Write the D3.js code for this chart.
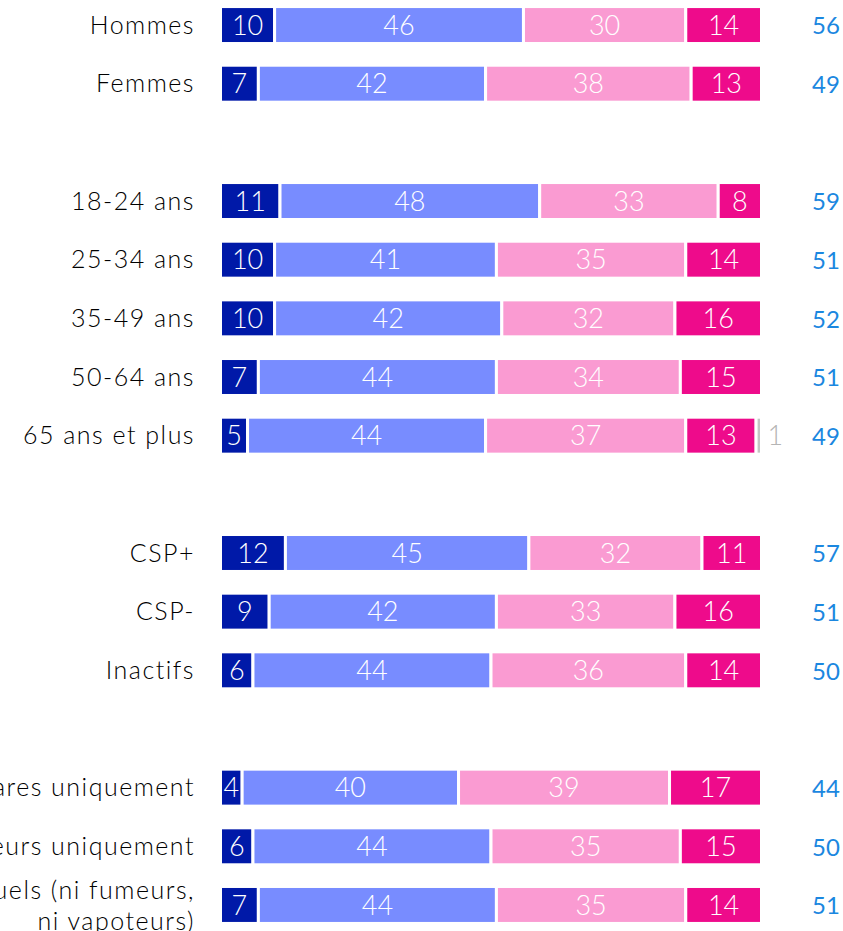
<!DOCTYPE html>
<meta charset="utf-8">
<head>
	<title>Barres empilées</title>
</head>
<style>
body{
	margin: 0;
	background: #fff;
}
svg{
	display: block;
	font-family: "Century Gothic", "Lato", sans-serif;
}
.cat{
	fill: #000;
	font-size: 25px;
	font-weight: 300;
	letter-spacing: 1.5px;
}
.val{
	fill: #fff;
	font-size: 27px;
	font-weight: 300;
}
.tot{
	fill: #1b87e0;
	font-size: 24px;
	font-weight: 400;
}
</style>
<body>
<svg width="843" height="931"></svg>

<script src="https://cdnjs.cloudflare.com/ajax/libs/d3/7.8.5/d3.min.js"></script>
<script>

// catégories (null = ligne vide entre les groupes)
var categories = [
	"Hommes", "Femmes", null,
	"18-24 ans", "25-34 ans", "35-49 ans", "50-64 ans", "65 ans et plus", null,
	"CSP+", "CSP-", "Inactifs", null,
	"Fumeurs de cigares uniquement", "Vapoteurs uniquement",
	["Non-consommateurs actuels (ni fumeurs,", "ni vapoteurs)"]
];

var serie1 = [10, 7, null, 11, 10, 10, 7, 5, null, 12, 9, 6, null, 4, 6, 7];
var serie2 = [46, 42, null, 48, 41, 42, 44, 44, null, 45, 42, 44, null, 40, 44, 44];
var serie3 = [30, 38, null, 33, 35, 32, 34, 37, null, 32, 33, 36, null, 39, 35, 35];
var serie4 = [14, 13, null, 8, 14, 16, 15, 13, null, 11, 16, 14, null, 17, 15, 14];
var nsp    = [0, 0, null, 0, 0, 0, 0, 1, null, 0, 0, 0, null, 0, 0, 0];
var totaux = [56, 49, null, 59, 51, 52, 51, 49, null, 57, 51, 50, null, 44, 50, 51];

var couleurs = ["#0019a8", "#788cff", "#fa9bd2", "#ee0b8b", "#c4c4c4"];

var svg = d3.select("svg");

var x = d3.scaleLinear()
	.domain([0, 100])
	.range([220.5, 761.5]);

var y = d3.scaleBand()
	.domain(d3.range(categories.length))
	.range([-4, 934])
	.paddingInner(0.37)
	.paddingOuter(0.18);

var lignes = categories.map(function(c, i){
	return {cat: c, vals: [serie1[i], serie2[i], serie3[i], serie4[i], nsp[i]], tot: totaux[i], i: i};
}).filter(function(d){ return d.cat !== null; });

var g = svg.selectAll("g.row")
	.data(lignes)
	.enter()
	.append("g")
	.attr("class", "row")
	.attr("transform", function(d){ return "translate(0," + y(d.i) + ")"; });

var h = y.bandwidth();

// libellés
g.append("text")
	.attr("class", "cat")
	.attr("text-anchor", "end")
	.attr("x", 195)
	.attr("y", h / 2)
	.each(function(d){
		var t = d3.select(this);
		var parts = Array.isArray(d.cat) ? d.cat : [d.cat];
		parts.forEach(function(p, k){
			t.append("tspan")
				.attr("x", 195)
				.attr("dy", k === 0 ? (0.35 - (parts.length - 1) * 0.6) + "em" : "1.25em")
				.text(p);
		});
	});

// segments
var segs = g.selectAll("g.seg")
	.data(function(d){
		var acc = 0;
		return d.vals.map(function(v, k){
			var s = {v: v, k: k, x0: acc};
			acc += v;
			return s;
		}).filter(function(s){ return s.v > 0; });
	})
	.enter()
	.append("g")
	.attr("class", "seg");

segs.append("rect")
	.attr("x", function(s){ return x(s.x0); })
	.attr("width", function(s){ return x(s.x0 + s.v) - x(s.x0); })
	.attr("y", 0)
	.attr("height", h)
	.attr("fill", function(s){ return couleurs[s.k]; })
	.attr("stroke", "#fff")
	.attr("stroke-width", 3);

segs.append("text")
	.attr("class", "val")
	.attr("text-anchor", function(s){ return s.k === 4 ? "start" : "middle"; })
	.attr("x", function(s){ return s.k === 4 ? x(100) + 6 : x(s.x0 + s.v / 2); })
	.attr("y", h / 2)
	.attr("dy", "0.36em")
	.style("fill", function(s){ return s.k === 4 ? "#b5b5b5" : null; })
	.text(function(s){ return s.v; });

// totaux
g.append("text")
	.attr("class", "tot")
	.attr("text-anchor", "middle")
	.attr("x", 826)
	.attr("y", h / 2 + 1)
	.attr("dy", "0.35em")
	.text(function(d){ return d.tot; });

</script>
</body>
</html>
